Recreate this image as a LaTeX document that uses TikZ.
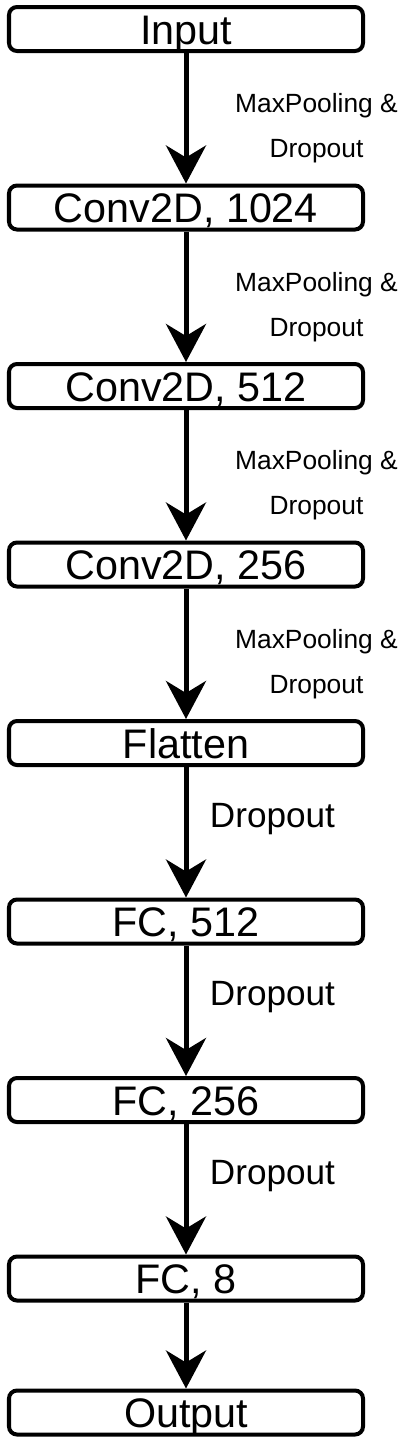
\documentclass[tikz,border=0pt]{standalone}
\usepackage{fontspec}
\setmainfont{Liberation Sans}
\usepackage{tikz}
\usetikzlibrary{arrows.meta, positioning}
\tikzstyle{layerbox} = [rectangle, rounded corners=0.16cm,
fill=white, draw=black, line width=0.08cm,
minimum width=7.08cm, minimum height=0.88cm, inner sep=0pt,
text height=0.72cm, text depth=0.12cm,
align=center, font=\fontsize{23.5}{23.5}\selectfont]
\tikzstyle{arrow} = [-{Stealth[length=0.76cm, width=0.8cm, inset=0.24cm]}, line width=0.1cm, draw=black]
\tikzstyle{poollabel} = [align=center, xshift=2.61cm, yshift=-0.2cm,
font=\fontsize{15}{25.6}\selectfont]
\tikzstyle{droplabel} = [xshift=1.73cm, yshift=0.27cm,
font=\fontsize{20}{20}\selectfont]

\begin{document}
\begin{tikzpicture}[node distance=2.61cm]
    \useasboundingbox (0,0) rectangle (8.3,-28.88);
    \node (input) [layerbox] at (3.72,-0.58) {Input};
    \node (conv1) [layerbox, below=of input] {Conv2D, 1024};
    \node (conv2) [layerbox, below=of conv1] {Conv2D, 512};
    \node (conv3) [layerbox, below=of conv2] {Conv2D, 256};
    \node (flat)  [layerbox, below=of conv3] {Flatten};
    \node (fc1)   [layerbox, below=of flat] {FC, 512};
    \node (fc2)   [layerbox, below=of fc1] {FC, 256};
    \node (fc3)   [layerbox, below=of fc2] {FC, 8};
    \node (output) [layerbox, below=1.72cm of fc3] {Output};

    \draw[arrow] (input) -- node[poollabel]{MaxPooling \&\\Dropout} (conv1);
    \draw[arrow] (conv1) -- node[poollabel]{MaxPooling \&\\Dropout} (conv2);
    \draw[arrow] (conv2) -- node[poollabel]{MaxPooling \&\\Dropout} (conv3);
    \draw[arrow] (conv3) -- node[poollabel]{MaxPooling \&\\Dropout} (flat);
    \draw[arrow] (flat)  -- node[droplabel]{Dropout} (fc1);
    \draw[arrow] (fc1)   -- node[droplabel]{Dropout} (fc2);
    \draw[arrow] (fc2)   -- node[droplabel]{Dropout} (fc3);
    \draw[arrow] (fc3)   -- (output);
\end{tikzpicture}
\end{document}
